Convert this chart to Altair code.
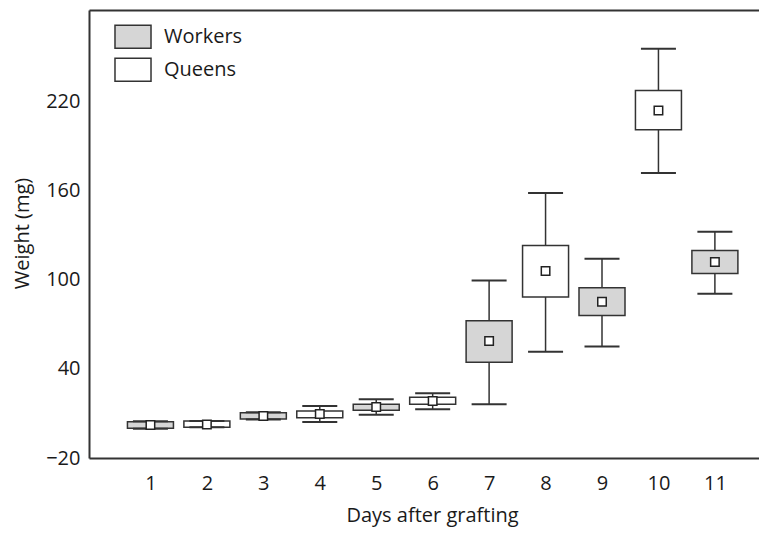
import altair as alt
import pandas as pd

# ---- data ----
days = [1, 2, 3, 4, 5, 6, 7, 8, 9, 10, 11]
caste = ["Workers", "Queens", "Workers", "Queens", "Workers", "Queens",
         "Workers", "Queens", "Workers", "Queens", "Workers"]
mean_w = [2.3, 2.6, 8.3, 9.7, 14.4, 18.4, 58.9, 106.1, 85.4, 214.2, 112.2]
q1_w = [0.1, 0.7, 6.3, 7.2, 12.2, 16.2, 44.5, 88.6, 76.0, 201.2, 104.3]
q3_w = [4.5, 4.9, 10.5, 11.7, 16.2, 20.9, 72.6, 123.2, 94.8, 227.7, 119.8]
lo_w = [-0.3, 0.7, 6.0, 4.3, 9.2, 12.8, 16.2, 51.7, 55.1, 172.2, 90.8]
hi_w = [4.8, 4.9, 10.8, 15.1, 19.6, 23.6, 99.6, 158.7, 114.4, 255.8, 132.6]
y_ticks = [-20, 40, 100, 160, 220]
legend_order = ["Workers", "Queens"]

df = pd.DataFrame(dict(day=days, caste=caste, mean=mean_w, q1=q1_w, q3=q3_w,
                       lo=lo_w, hi=hi_w))

FONT = "Open Sans"
FS = 20
LINE = "#333333"
TEXT = "#1a1a1a"
GRAY = "#d6d6d6"
W, H = 670, 448

xscale = alt.Scale(domain=[0, W / 57.3], nice=False, zero=False)
yscale = alt.Scale(domain=[-20, 282], nice=False, zero=False)

xaxis_bottom = alt.Axis(
    values=days, ticks=False, grid=False, labelPadding=15,
    labelFontSize=FS, labelFont=FONT, labelColor=TEXT,
    title="Days after grafting", titleFont=FONT, titleFontSize=FS,
    titleFontWeight="normal", titleColor=TEXT,
    titleX=343, titleY=63, titleAlign="center", titleBaseline="alphabetic",
    domainColor=LINE, domainWidth=2)
xaxis_top = alt.Axis(orient="top", labels=False, ticks=False, grid=False,
                     title=None, domainColor=LINE, domainWidth=2)
yaxis = alt.Axis(
    values=y_ticks, ticks=False, grid=False, labelPadding=9,
    labelFontSize=FS, labelFont=FONT, labelColor=TEXT,
    title="Weight (mg)", titleFont=FONT, titleFontSize=FS,
    titleFontWeight="normal", titleColor=TEXT,
    titleX=-67, titleY=223, titleAngle=270, titleAlign="center",
    titleBaseline="middle", domainColor=LINE, domainWidth=2)

base = alt.Chart(df)

whisk = base.mark_rule(color=LINE, strokeWidth=1.5).encode(
    x=alt.X("day:Q", scale=xscale, axis=xaxis_bottom),
    y=alt.Y("lo:Q", scale=yscale, axis=yaxis),
    y2="hi:Q",
)

box = base.mark_bar(size=46, stroke=LINE, strokeWidth=1.5, opacity=1).encode(
    x=alt.X("day:Q", scale=xscale, axis=xaxis_top),
    y=alt.Y("q1:Q", scale=yscale, axis=yaxis),
    y2="q3:Q",
    fill=alt.Fill("caste:N",
                  scale=alt.Scale(domain=legend_order, range=[GRAY, "white"]),
                  legend=alt.Legend(
                      title=None, orient="none", legendX=25.5, legendY=8.2,
                      symbolType="M-1.029,-0.657L1.029,-0.657L1.029,0.657L-1.029,0.657Z",
                      symbolSize=1225, symbolStrokeColor=LINE,
                      symbolStrokeWidth=1.5, symbolOpacity=1,
                      labelFont=FONT, labelFontSize=FS, labelColor=TEXT,
                      labelOffset=12.5, rowPadding=0, padding=0)),
)

cap_lo = base.mark_tick(orient="horizontal", size=35, thickness=2,
                        color=LINE, opacity=1).encode(
    x=alt.X("day:Q", scale=xscale, axis=None),
    y=alt.Y("lo:Q", scale=yscale, axis=yaxis),
)
cap_hi = base.mark_tick(orient="horizontal", size=35, thickness=2,
                        color=LINE, opacity=1).encode(
    x=alt.X("day:Q", scale=xscale, axis=None),
    y=alt.Y("hi:Q", scale=yscale, axis=yaxis),
)

mean_pt = base.mark_square(size=72, filled=True, fill="white", stroke="#222222",
                           strokeWidth=1.5, opacity=1).encode(
    x=alt.X("day:Q", scale=xscale, axis=None),
    y=alt.Y("mean:Q", scale=yscale, axis=yaxis),
)

chart = (
    alt.layer(whisk, box, cap_lo, cap_hi, mean_pt)
    .resolve_axis(x="independent")
    .properties(width=W, height=H,
                autosize=alt.AutoSizeParams(type="none"),
                padding={"left": 81, "top": 2, "right": 0, "bottom": 70},
                background="white")
    .configure_view(stroke=None)
)

chart.save("out.html", embed_options={"renderer": "svg", "actions": False})
